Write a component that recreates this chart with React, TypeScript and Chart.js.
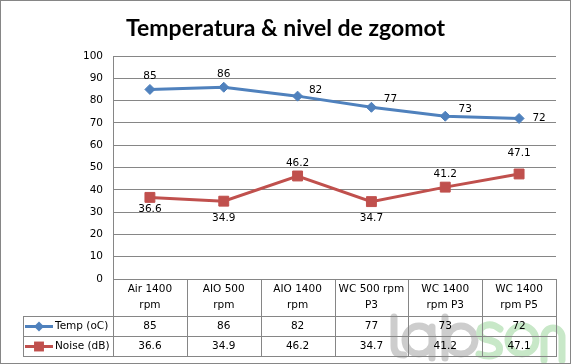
import React, { useEffect, useRef } from 'react';
import { Chart, registerables } from 'chart.js';

Chart.register(...registerables);

// ---- data ----
const chartTitle = 'Temperatura & nivel de zgomot';
const categoryLines = [
  ['Air 1400', 'rpm'],
  ['AIO 500', 'rpm'],
  ['AIO 1400', 'rpm'],
  ['WC 500 rpm', 'P3'],
  ['WC 1400', 'rpm P3'],
  ['WC 1400', 'rpm P5'],
];
const tempValues = [85, 86, 82, 77, 73, 72];
const noiseValues = [36.6, 34.9, 46.2, 34.7, 41.2, 47.1];
const tempName = 'Temp (oC)';
const noiseName = 'Noise (dB)';
const yMin = 0;
const yMax = 100;
const yStep = 10;

// ---- styles ----
const TEMP_COLOR = '#4F81BD';
const NOISE_COLOR = '#C0504D';
const GRID = '#868686';
const FONT = '"DejaVu Sans", Verdana, sans-serif';
const tempLabelOffsets = [[0, -13], [0, -13], [18, -6], [19, -8], [20, -7], [20, 0]];
const noiseLabelOffsets = [[0, 12], [0, 17], [0, -13], [0, 17], [0, -13], [0, -21]];

const fmt = (v: number) => (Number.isInteger(v) ? String(v) : v.toFixed(1));

function drawWatermark(ctx: CanvasRenderingContext2D) {
  ctx.save();
  ctx.lineWidth = 7;
  ctx.lineCap = 'round';
  ctx.lineJoin = 'round';
  ctx.strokeStyle = 'rgb(205,205,205)';
  // l
  ctx.beginPath();
  ctx.moveTo(394, 317);
  ctx.lineTo(394, 346);
  ctx.quadraticCurveTo(394, 355, 404, 355);
  ctx.stroke();
  // a
  ctx.beginPath();
  ctx.arc(419, 340, 14, 0, Math.PI * 2);
  ctx.stroke();
  ctx.beginPath();
  ctx.moveTo(432, 327);
  ctx.lineTo(432, 358);
  ctx.stroke();
  // b
  ctx.beginPath();
  ctx.moveTo(445, 317);
  ctx.lineTo(445, 358);
  ctx.stroke();
  ctx.beginPath();
  ctx.arc(461, 340, 14, 0, Math.PI * 2);
  ctx.stroke();
  // s o n
  ctx.strokeStyle = 'rgb(200,232,200)';
  ctx.beginPath();
  ctx.moveTo(500, 329);
  ctx.quadraticCurveTo(490, 321, 481, 328);
  ctx.quadraticCurveTo(476, 338, 489, 340);
  ctx.quadraticCurveTo(502, 343, 499, 352);
  ctx.quadraticCurveTo(492, 359, 479, 354);
  ctx.stroke();
  ctx.beginPath();
  ctx.arc(522, 340, 14, 0, Math.PI * 2);
  ctx.stroke();
  ctx.beginPath();
  ctx.moveTo(544, 360);
  ctx.lineTo(544, 337);
  ctx.arc(553, 337, 9, Math.PI, 0);
  ctx.lineTo(562, 360);
  ctx.stroke();
  ctx.restore();
}

const overlayPlugin = {
  id: 'overlay',
  beforeDraw(chart: any) {
    const ctx = chart.ctx;
    ctx.save();
    ctx.fillStyle = '#ffffff';
    ctx.fillRect(0, 0, chart.width, chart.height);
    drawWatermark(ctx);
    // title
    ctx.fillStyle = '#000';
    ctx.font = 'bold 23px Lato, sans-serif';
    ctx.textAlign = 'center';
    ctx.textBaseline = 'alphabetic';
    ctx.fillText(chartTitle, chart.width / 2, 36);
    ctx.restore();
  },
  afterDatasetsDraw(chart: any) {
    const ctx = chart.ctx;
    ctx.save();
    ctx.font = `10.5px ${FONT}`;
    ctx.fillStyle = '#000';
    ctx.textAlign = 'center';
    ctx.textBaseline = 'middle';
    const offs = [tempLabelOffsets, noiseLabelOffsets];
    chart.data.datasets.forEach((ds: any, di: number) => {
      const meta = chart.getDatasetMeta(di);
      meta.data.forEach((pt: any, i: number) => {
        const [dx, dy] = offs[di][i];
        ctx.fillText(fmt(ds.data[i]), pt.x + dx, pt.y + dy);
      });
    });
    ctx.restore();
  },
  afterDraw(chart: any) {
    const ctx = chart.ctx;
    const xs = chart.scales.x;
    const area = chart.chartArea;
    const catW = xs.getPixelForValue(1) - xs.getPixelForValue(0);
    const top = Math.round(area.bottom);
    const r1 = top + 37;
    const r2 = r1 + 20;
    const r3 = r2 + 20;
    const legL = 23;
    const right = Math.round(area.right);
    ctx.save();
    ctx.strokeStyle = GRID;
    ctx.lineWidth = 1;
    ctx.beginPath();
    for (let i = 0; i <= categoryLines.length; i++) {
      const x = Math.round(xs.getPixelForValue(i) - catW / 2) + 0.5;
      ctx.moveTo(x, top);
      ctx.lineTo(x, r3);
    }
    ctx.moveTo(legL + 0.5, r1);
    ctx.lineTo(legL + 0.5, r3);
    [r1, r2, r3].forEach((y) => {
      ctx.moveTo(legL, y + 0.5);
      ctx.lineTo(right + 1, y + 0.5);
    });
    ctx.stroke();
    // outer border
    ctx.strokeRect(0.5, 0.5, chart.width - 1, chart.height - 1);

    ctx.fillStyle = '#000';
    ctx.font = `10.5px ${FONT}`;
    ctx.textAlign = 'center';
    ctx.textBaseline = 'middle';
    categoryLines.forEach((lines, i) => {
      const x = xs.getPixelForValue(i);
      lines.forEach((ln, k) => ctx.fillText(ln, x, top + 10 + k * 16));
      ctx.fillText(fmt(tempValues[i]), x, r1 + 10.5);
      ctx.fillText(fmt(noiseValues[i]), x, r2 + 10.5);
    });
    // legend keys
    const keys = [
      { name: tempName, color: TEMP_COLOR, style: 'rectRot', r: 5, y: r1 + 10.5 },
      { name: noiseName, color: NOISE_COLOR, style: 'rect', r: 7, y: r2 + 10.5 },
    ];
    keys.forEach((k) => {
      ctx.strokeStyle = k.color;
      ctx.lineWidth = 3;
      ctx.beginPath();
      ctx.moveTo(25, k.y);
      ctx.lineTo(53, k.y);
      ctx.stroke();
      ctx.fillStyle = k.color;
      ctx.beginPath();
      if (k.style === 'rect') {
        const s = k.r * Math.SQRT1_2;
        ctx.rect(39 - s, k.y - s, 2 * s, 2 * s);
      } else {
        ctx.moveTo(39, k.y - k.r);
        ctx.lineTo(39 + k.r, k.y);
        ctx.lineTo(39, k.y + k.r);
        ctx.lineTo(39 - k.r, k.y);
        ctx.closePath();
      }
      ctx.fill();
      ctx.fillStyle = '#000';
      ctx.textAlign = 'left';
      ctx.fillText(k.name, 55, k.y);
    });
    ctx.restore();
  },
};

export default function App() {
  const ref = useRef<HTMLCanvasElement>(null);
  useEffect(() => {
    document.body.style.margin = '0';
    const chart = new Chart(ref.current as HTMLCanvasElement, {
      type: 'line',
      data: {
        labels: categoryLines.map((l) => l.join(' ')),
        datasets: [
          {
            label: tempName,
            data: tempValues,
            borderColor: TEMP_COLOR,
            backgroundColor: TEMP_COLOR,
            borderWidth: 3,
            pointStyle: 'rectRot',
            pointRadius: 5,
            pointBorderWidth: 1,
            tension: 0,
          },
          {
            label: noiseName,
            data: noiseValues,
            borderColor: NOISE_COLOR,
            backgroundColor: NOISE_COLOR,
            borderWidth: 3,
            pointStyle: 'rect',
            pointRadius: 7,
            pointBorderWidth: 1,
            tension: 0,
          },
        ],
      },
      options: {
        responsive: false,
        animation: false,
        layout: { padding: { top: 56, right: 15, bottom: 85, left: 0 } },
        plugins: { legend: { display: false }, title: { display: false }, tooltip: { enabled: false } },
        scales: {
          x: { type: 'category', display: false, offset: true },
          y: {
            min: yMin,
            max: yMax,
            ticks: { stepSize: yStep, color: '#000', font: { family: FONT, size: 10.5 }, padding: 10 },
            grid: { color: GRID, drawTicks: false, lineWidth: 1 },
            border: { display: true, color: GRID },
            afterFit: (s: any) => {
              s.width = 113;
            },
          },
        },
      },
      plugins: [overlayPlugin],
    } as any);
    return () => chart.destroy();
  }, []);
  return (
    <div style={{ width: 571, height: 364 }}>
      <canvas ref={ref} width={571} height={364} style={{ display: 'block' }} />
    </div>
  );
}
